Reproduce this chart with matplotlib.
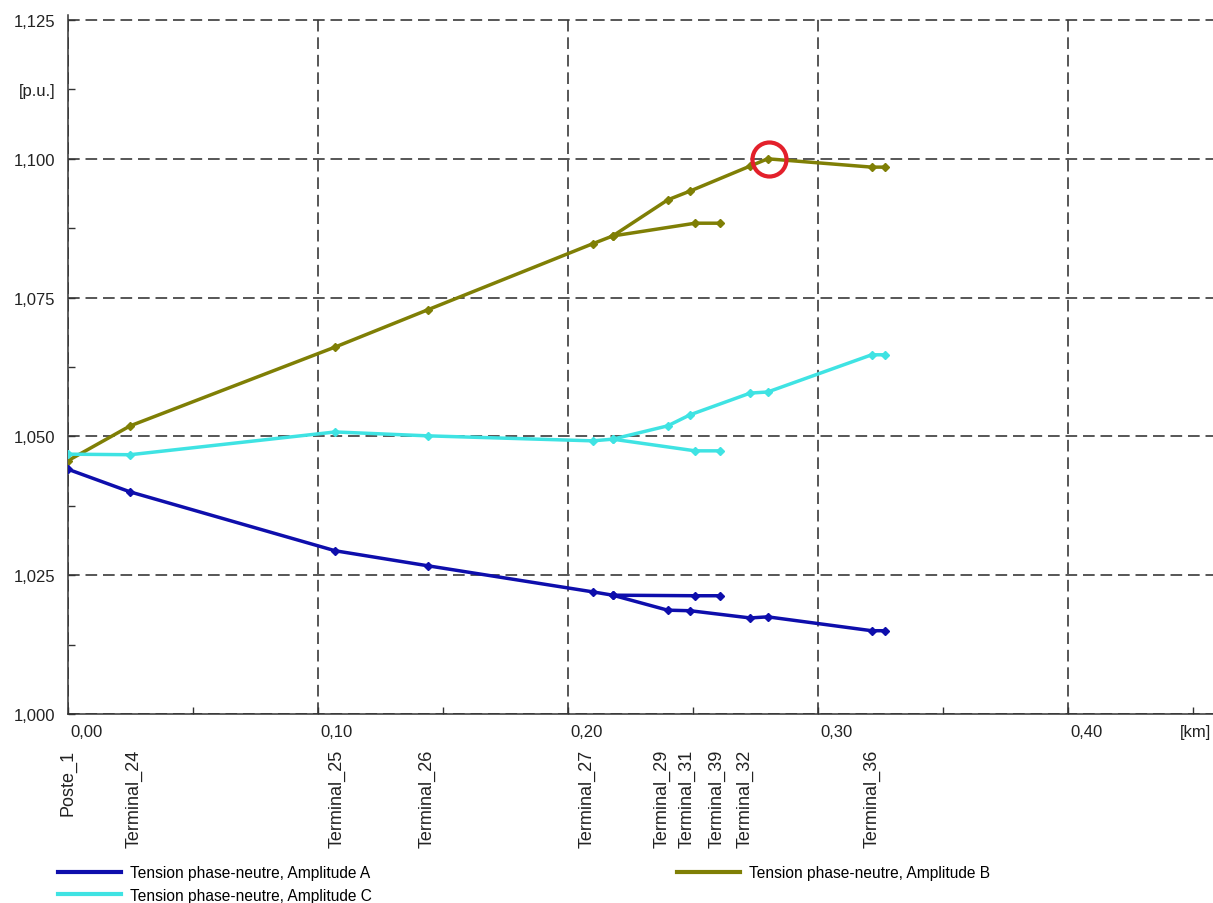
import matplotlib
matplotlib.use("Agg")
import matplotlib.pyplot as plt
from matplotlib.lines import Line2D
from matplotlib.transforms import blended_transform_factory, ScaledTranslation

plt.rcParams['font.family'] = ['Liberation Sans', 'DejaVu Sans']

# ---- data (distance in km, voltage in p.u.) ----
dist_main = [0.000, 0.025, 0.107, 0.144, 0.210, 0.218, 0.240, 0.249, 0.273, 0.280, 0.3216, 0.327]
dist_side = [0.218, 0.251, 0.261]

va_main = [1.0441, 1.0400, 1.0294, 1.0267, 1.0220, 1.0214, 1.0187, 1.0186, 1.0173, 1.0175, 1.0150, 1.0150]
va_side = [1.0214, 1.0213, 1.0213]
vb_main = [1.0456, 1.0519, 1.0661, 1.0728, 1.0847, 1.0861, 1.0926, 1.0942, 1.0987, 1.1000, 1.0985, 1.0985]
vb_side = [1.0861, 1.0884, 1.0884]
vc_main = [1.0468, 1.0467, 1.0508, 1.0501, 1.0492, 1.0495, 1.0519, 1.0539, 1.0578, 1.0580, 1.0647, 1.0647]
vc_side = [1.0495, 1.0474, 1.0474]

node_names = ['Poste_1', 'Terminal_24', 'Terminal_25', 'Terminal_26', 'Terminal_27',
              'Terminal_29', 'Terminal_31', 'Terminal_39', 'Terminal_32', 'Terminal_36']
node_dist = [0.0, 0.0265, 0.1076, 0.1436, 0.2076, 0.2377, 0.2477, 0.2597, 0.2709, 0.3218]

x_ticks = [0.0, 0.1, 0.2, 0.3, 0.4]
x_tick_labels = ['0,00', '0,10', '0,20', '0,30', '0,40']
y_ticks = [1.000, 1.025, 1.050, 1.075, 1.100, 1.125]
y_tick_labels = ['1,000', '1,025', '1,050', '1,075', '1,100', '1,125']

max_point = (0.2804, 1.100)

labels = ['Tension phase-neutre, Amplitude A',
          'Tension phase-neutre, Amplitude B',
          'Tension phase-neutre, Amplitude C']
colors = ['#0e0eac', '#7f7f05', '#3fe3e3']

# ---- figure ----
W, H = 1213, 904
fig = plt.figure(figsize=(W / 100, H / 100), dpi=100)
left_px, bottom_px, top_px = 67.7, 715, 16
ax = fig.add_axes([left_px / W, (H - bottom_px) / H, (W - left_px) / W, (bottom_px - top_px) / H])

px_per_km = 2500.0
px_per_pu = 5552.0
ax.set_xlim(0, (W - left_px) / px_per_km)
ax.set_ylim(1.0, 1.0 + (bottom_px - top_px) / px_per_pu)

for spine in ['top', 'right']:
    ax.spines[spine].set_visible(False)
for spine in ['left', 'bottom']:
    ax.spines[spine].set_color('#333333')
    ax.spines[spine].set_linewidth(1.1)

ax.set_xticks(x_ticks)
ax.set_xticklabels(x_tick_labels)
ax.set_yticks(y_ticks)
ax.set_yticklabels(y_tick_labels)
ax.set_xticks([0.05, 0.15, 0.25, 0.35, 0.45], minor=True)
ax.set_xticklabels(['', '', '', '', '[km]'], minor=True)
ax.set_yticks([1.0125, 1.0375, 1.0625, 1.0875, 1.1125], minor=True)
ax.set_yticklabels(['', '', '', '', '[p.u.]'], minor=True)

ax.tick_params(axis='both', which='both', direction='in', length=5, width=1,
               color='#333333', labelcolor='#222222', labelsize=12)
ax.tick_params(axis='x', which='both', pad=7)
ax.tick_params(axis='y', which='both', pad=9)
offset = ScaledTranslation(3 / 100, 0, fig.dpi_scale_trans)
for lab in ax.get_xticklabels():
    lab.set_horizontalalignment('left')
    lab.set_transform(lab.get_transform() + offset)
for lab in ax.get_xticklabels(minor=True):
    lab.set_transform(lab.get_transform() + offset)

ax.grid(True, which='major', color='#3a3a3a', linewidth=1.2, linestyle=(0, (7, 3.5)))
ax.set_axisbelow(True)

series = [(va_main, va_side), (vb_main, vb_side), (vc_main, vc_side)]
order = [1, 2, 0]
for i in order:
    main, side = series[i]
    ax.plot(dist_main, main, color=colors[i], lw=2.5, marker='D', ms=4, zorder=3)
    ax.plot(dist_side, side, color=colors[i], lw=2.5, marker='D', ms=4, zorder=3)

ax.plot([max_point[0]], [max_point[1]], 'o', ms=24.5, mfc='none', mec='#e3202b', mew=3.0, zorder=5)

trans = blended_transform_factory(ax.transData, fig.transFigure)
for name, d in zip(node_names, node_dist):
    ax.text(d, (H - 750) / H, name, rotation=90, ha='center', va='top', transform=trans,
            fontsize=13, color='#222222', clip_on=False)

handles = [Line2D([], [], color=colors[0], lw=3),
           Line2D([], [], color=colors[2], lw=3),
           Line2D([], [], color=colors[1], lw=3)]
hl = [labels[0], labels[2], labels[1]]
fig.legend(handles, hl, loc='upper left', bbox_to_anchor=(58 / W, 1 - 866 / H), ncol=2,
           frameon=False, fontsize=11.2, handlelength=4.05, handletextpad=0.58,
           columnspacing=19.6, labelspacing=0.5, borderpad=0, borderaxespad=0)

fig.savefig('out.png', dpi=100)
